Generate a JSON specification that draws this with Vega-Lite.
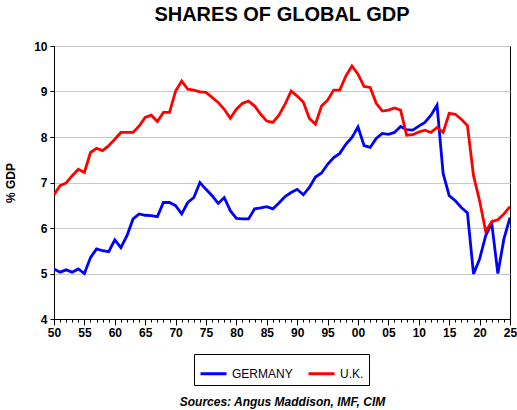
{
  "$schema": "https://vega.github.io/schema/vega-lite/v6.json",
  "width": 456,
  "height": 273,
  "autosize": {"type": "none"},
  "padding": {"left": 54, "top": 46, "right": 7, "bottom": 91},
  "background": "white",
  "title": {
    "text": "SHARES OF GLOBAL GDP",
    "font": "Liberation Sans",
    "fontSize": 20,
    "fontWeight": "bold",
    "color": "black",
    "anchor": "middle",
    "offset": 15
  },
  "data": {
    "values": [
      {"year": 1850, "country": "GERMANY", "share": 5.10},
      {"year": 1851, "country": "GERMANY", "share": 5.03},
      {"year": 1852, "country": "GERMANY", "share": 5.08},
      {"year": 1853, "country": "GERMANY", "share": 5.03},
      {"year": 1854, "country": "GERMANY", "share": 5.10},
      {"year": 1855, "country": "GERMANY", "share": 5.00},
      {"year": 1856, "country": "GERMANY", "share": 5.35},
      {"year": 1857, "country": "GERMANY", "share": 5.54},
      {"year": 1858, "country": "GERMANY", "share": 5.50},
      {"year": 1859, "country": "GERMANY", "share": 5.48},
      {"year": 1860, "country": "GERMANY", "share": 5.74},
      {"year": 1861, "country": "GERMANY", "share": 5.57},
      {"year": 1862, "country": "GERMANY", "share": 5.83},
      {"year": 1863, "country": "GERMANY", "share": 6.20},
      {"year": 1864, "country": "GERMANY", "share": 6.31},
      {"year": 1865, "country": "GERMANY", "share": 6.28},
      {"year": 1866, "country": "GERMANY", "share": 6.27},
      {"year": 1867, "country": "GERMANY", "share": 6.25},
      {"year": 1868, "country": "GERMANY", "share": 6.56},
      {"year": 1869, "country": "GERMANY", "share": 6.56},
      {"year": 1870, "country": "GERMANY", "share": 6.49},
      {"year": 1871, "country": "GERMANY", "share": 6.31},
      {"year": 1872, "country": "GERMANY", "share": 6.56},
      {"year": 1873, "country": "GERMANY", "share": 6.67},
      {"year": 1874, "country": "GERMANY", "share": 7.00},
      {"year": 1875, "country": "GERMANY", "share": 6.85},
      {"year": 1876, "country": "GERMANY", "share": 6.71},
      {"year": 1877, "country": "GERMANY", "share": 6.54},
      {"year": 1878, "country": "GERMANY", "share": 6.67},
      {"year": 1879, "country": "GERMANY", "share": 6.38},
      {"year": 1880, "country": "GERMANY", "share": 6.21},
      {"year": 1881, "country": "GERMANY", "share": 6.20},
      {"year": 1882, "country": "GERMANY", "share": 6.20},
      {"year": 1883, "country": "GERMANY", "share": 6.42},
      {"year": 1884, "country": "GERMANY", "share": 6.44},
      {"year": 1885, "country": "GERMANY", "share": 6.47},
      {"year": 1886, "country": "GERMANY", "share": 6.42},
      {"year": 1887, "country": "GERMANY", "share": 6.55},
      {"year": 1888, "country": "GERMANY", "share": 6.69},
      {"year": 1889, "country": "GERMANY", "share": 6.78},
      {"year": 1890, "country": "GERMANY", "share": 6.85},
      {"year": 1891, "country": "GERMANY", "share": 6.73},
      {"year": 1892, "country": "GERMANY", "share": 6.89},
      {"year": 1893, "country": "GERMANY", "share": 7.12},
      {"year": 1894, "country": "GERMANY", "share": 7.21},
      {"year": 1895, "country": "GERMANY", "share": 7.40},
      {"year": 1896, "country": "GERMANY", "share": 7.55},
      {"year": 1897, "country": "GERMANY", "share": 7.64},
      {"year": 1898, "country": "GERMANY", "share": 7.84},
      {"year": 1899, "country": "GERMANY", "share": 7.99},
      {"year": 1900, "country": "GERMANY", "share": 8.22},
      {"year": 1901, "country": "GERMANY", "share": 7.81},
      {"year": 1902, "country": "GERMANY", "share": 7.77},
      {"year": 1903, "country": "GERMANY", "share": 7.97},
      {"year": 1904, "country": "GERMANY", "share": 8.08},
      {"year": 1905, "country": "GERMANY", "share": 8.06},
      {"year": 1906, "country": "GERMANY", "share": 8.10},
      {"year": 1907, "country": "GERMANY", "share": 8.23},
      {"year": 1908, "country": "GERMANY", "share": 8.16},
      {"year": 1909, "country": "GERMANY", "share": 8.15},
      {"year": 1910, "country": "GERMANY", "share": 8.24},
      {"year": 1911, "country": "GERMANY", "share": 8.32},
      {"year": 1912, "country": "GERMANY", "share": 8.48},
      {"year": 1913, "country": "GERMANY", "share": 8.70},
      {"year": 1914, "country": "GERMANY", "share": 7.20},
      {"year": 1915, "country": "GERMANY", "share": 6.71},
      {"year": 1916, "country": "GERMANY", "share": 6.60},
      {"year": 1917, "country": "GERMANY", "share": 6.45},
      {"year": 1918, "country": "GERMANY", "share": 6.33},
      {"year": 1919, "country": "GERMANY", "share": 4.99},
      {"year": 1920, "country": "GERMANY", "share": 5.32},
      {"year": 1921, "country": "GERMANY", "share": 5.83},
      {"year": 1922, "country": "GERMANY", "share": 6.10},
      {"year": 1923, "country": "GERMANY", "share": 5.00},
      {"year": 1924, "country": "GERMANY", "share": 5.76},
      {"year": 1925, "country": "GERMANY", "share": 6.23},
      {"year": 1850, "country": "U.K.", "share": 6.73},
      {"year": 1851, "country": "U.K.", "share": 6.93},
      {"year": 1852, "country": "U.K.", "share": 6.99},
      {"year": 1853, "country": "U.K.", "share": 7.15},
      {"year": 1854, "country": "U.K.", "share": 7.29},
      {"year": 1855, "country": "U.K.", "share": 7.22},
      {"year": 1856, "country": "U.K.", "share": 7.66},
      {"year": 1857, "country": "U.K.", "share": 7.75},
      {"year": 1858, "country": "U.K.", "share": 7.70},
      {"year": 1859, "country": "U.K.", "share": 7.81},
      {"year": 1860, "country": "U.K.", "share": 7.95},
      {"year": 1861, "country": "U.K.", "share": 8.10},
      {"year": 1862, "country": "U.K.", "share": 8.10},
      {"year": 1863, "country": "U.K.", "share": 8.10},
      {"year": 1864, "country": "U.K.", "share": 8.24},
      {"year": 1865, "country": "U.K.", "share": 8.43},
      {"year": 1866, "country": "U.K.", "share": 8.48},
      {"year": 1867, "country": "U.K.", "share": 8.34},
      {"year": 1868, "country": "U.K.", "share": 8.54},
      {"year": 1869, "country": "U.K.", "share": 8.54},
      {"year": 1870, "country": "U.K.", "share": 9.01},
      {"year": 1871, "country": "U.K.", "share": 9.23},
      {"year": 1872, "country": "U.K.", "share": 9.05},
      {"year": 1873, "country": "U.K.", "share": 9.03},
      {"year": 1874, "country": "U.K.", "share": 8.99},
      {"year": 1875, "country": "U.K.", "share": 8.98},
      {"year": 1876, "country": "U.K.", "share": 8.87},
      {"year": 1877, "country": "U.K.", "share": 8.76},
      {"year": 1878, "country": "U.K.", "share": 8.61},
      {"year": 1879, "country": "U.K.", "share": 8.41},
      {"year": 1880, "country": "U.K.", "share": 8.61},
      {"year": 1881, "country": "U.K.", "share": 8.74},
      {"year": 1882, "country": "U.K.", "share": 8.79},
      {"year": 1883, "country": "U.K.", "share": 8.68},
      {"year": 1884, "country": "U.K.", "share": 8.50},
      {"year": 1885, "country": "U.K.", "share": 8.35},
      {"year": 1886, "country": "U.K.", "share": 8.32},
      {"year": 1887, "country": "U.K.", "share": 8.48},
      {"year": 1888, "country": "U.K.", "share": 8.72},
      {"year": 1889, "country": "U.K.", "share": 9.01},
      {"year": 1890, "country": "U.K.", "share": 8.90},
      {"year": 1891, "country": "U.K.", "share": 8.77},
      {"year": 1892, "country": "U.K.", "share": 8.41},
      {"year": 1893, "country": "U.K.", "share": 8.28},
      {"year": 1894, "country": "U.K.", "share": 8.68},
      {"year": 1895, "country": "U.K.", "share": 8.81},
      {"year": 1896, "country": "U.K.", "share": 9.03},
      {"year": 1897, "country": "U.K.", "share": 9.03},
      {"year": 1898, "country": "U.K.", "share": 9.34},
      {"year": 1899, "country": "U.K.", "share": 9.56},
      {"year": 1900, "country": "U.K.", "share": 9.38},
      {"year": 1901, "country": "U.K.", "share": 9.11},
      {"year": 1902, "country": "U.K.", "share": 9.09},
      {"year": 1903, "country": "U.K.", "share": 8.74},
      {"year": 1904, "country": "U.K.", "share": 8.57},
      {"year": 1905, "country": "U.K.", "share": 8.59},
      {"year": 1906, "country": "U.K.", "share": 8.64},
      {"year": 1907, "country": "U.K.", "share": 8.59},
      {"year": 1908, "country": "U.K.", "share": 8.04},
      {"year": 1909, "country": "U.K.", "share": 8.05},
      {"year": 1910, "country": "U.K.", "share": 8.11},
      {"year": 1911, "country": "U.K.", "share": 8.15},
      {"year": 1912, "country": "U.K.", "share": 8.10},
      {"year": 1913, "country": "U.K.", "share": 8.21},
      {"year": 1914, "country": "U.K.", "share": 8.10},
      {"year": 1915, "country": "U.K.", "share": 8.52},
      {"year": 1916, "country": "U.K.", "share": 8.50},
      {"year": 1917, "country": "U.K.", "share": 8.39},
      {"year": 1918, "country": "U.K.", "share": 8.25},
      {"year": 1919, "country": "U.K.", "share": 7.15},
      {"year": 1920, "country": "U.K.", "share": 6.60},
      {"year": 1921, "country": "U.K.", "share": 5.93},
      {"year": 1922, "country": "U.K.", "share": 6.14},
      {"year": 1923, "country": "U.K.", "share": 6.18},
      {"year": 1924, "country": "U.K.", "share": 6.31},
      {"year": 1925, "country": "U.K.", "share": 6.47}
    ]
  },
  "mark": {"type": "line", "strokeWidth": 2.8, "strokeJoin": "miter", "clip": true},
  "encoding": {
    "x": {
      "field": "year",
      "type": "quantitative",
      "scale": {"domain": [1850, 1925], "nice": false, "zero": false},
      "axis": {
        "title": "Sources:  Angus Maddison, IMF, CIM",
        "titleFont": "Liberation Sans",
        "titleFontSize": 12,
        "titleFontWeight": "bold",
        "titleFontStyle": "italic",
        "titleColor": "black",
        "titlePadding": 58,
        "tickCount": 75,
        "format": "d",
        "labelExpr": "datum.value % 5 === 0 ? substring(datum.label, 2) : ''",
        "labelOverlap": false,
        "labelFlush": false,
        "labelPadding": 2,
        "tickSize": {"condition": {"test": "datum.value % 5 === 0", "value": 6}, "value": 3},
        "grid": false
      }
    },
    "y": {
      "field": "share",
      "type": "quantitative",
      "scale": {"domain": [4, 10], "nice": false, "zero": false},
      "axis": {
        "title": "% GDP",
        "titlePadding": 16,
        "values": [4, 5, 6, 7, 8, 9, 10],
        "tickSize": 4,
        "labelPadding": 3,
        "grid": true
      }
    },
    "color": {
      "field": "country",
      "type": "nominal",
      "scale": {"domain": ["GERMANY", "U.K."], "range": ["#0000ff", "#ff0000"]},
      "legend": {
        "title": null,
        "orient": "none",
        "direction": "horizontal",
        "legendX": 140,
        "legendY": 308,
        "strokeColor": "black",
        "fillColor": "white",
        "padding": 5,
        "symbolType": "stroke",
        "symbolSize": 676,
        "symbolStrokeWidth": 3,
        "labelFont": "Liberation Sans",
        "labelFontSize": 12,
        "labelColor": "#000022",
        "labelOffset": 4,
        "columnPadding": 9
      }
    }
  },
  "config": {
    "font": "Liberation Sans",
    "view": {"stroke": "black", "strokeWidth": 1},
    "axis": {
      "domainColor": "black",
      "domainWidth": 1,
      "tickColor": "black",
      "labelFont": "Liberation Sans",
      "labelFontSize": 12,
      "labelFontWeight": "bold",
      "labelColor": "black",
      "titleFont": "Liberation Sans",
      "titleFontSize": 12,
      "titleFontWeight": "bold",
      "titleColor": "black",
      "gridColor": "#c8c8c8",
      "gridWidth": 1
    }
  }
}
